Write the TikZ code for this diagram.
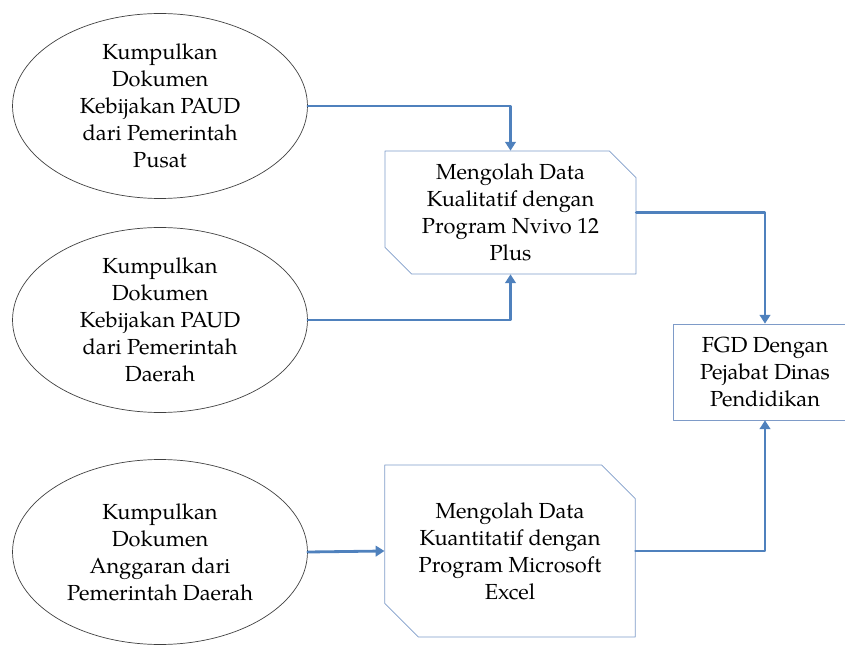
\documentclass[tikz,border=0pt]{standalone}
\usepackage{fontspec}
\setmainfont{texgyrepagella}[Extension=.otf, UprightFont=*-regular]
\usetikzlibrary{shapes.geometric,shapes.misc,arrows.meta}
\definecolor{flowblue}{RGB}{79,129,189}
\definecolor{edgeblue}{RGB}{126,155,200}
\begin{document}
\begin{tikzpicture}[x=0.02cm, y=-0.02cm, line cap=round, line join=round, >={Triangle[width=6pt,length=5pt]}, font=\fontsize{12.4}{15.4}\selectfont,
	oval/.style={ellipse, draw=black!75, thin, minimum width=5.9cm, minimum height=3.7cm, align=center, inner sep=0pt},
	snip/.style={chamfered rectangle, chamfered rectangle corners={north east,south west}, chamfered rectangle xsep=0.42cm, draw=edgeblue, thin, align=center},
	flow/.style={->, draw=flowblue, line width=1.6pt}]
		\useasboundingbox (0,0) rectangle (845,648);
		\clip (0,0) rectangle (845,648);
		% dokumen
		\node[oval] (pusat) at (160,106) {Kumpulkan\\Dokumen\\Kebijakan PAUD\\dari Pemerintah\\Pusat};
		\node[oval] (daerah) at (160,320) {Kumpulkan\\Dokumen\\Kebijakan PAUD\\dari Pemerintah\\Daerah};
		\node[oval] (anggaran) at (160,552) {Kumpulkan\\Dokumen\\Anggaran dari\\Pemerintah Daerah};
		% olah data
		\node[snip, minimum width=5.02cm, minimum height=2.46cm] (nvivo) at (510.5,212.5) {Mengolah Data\\Kualitatif dengan\\Program Nvivo 12\\Plus};
		\node[snip, minimum width=5cm, minimum height=3.44cm, chamfered rectangle xsep=0.56cm] (excel) at (510,551) {Mengolah Data\\Kuantitatif dengan\\Program Microsoft\\Excel};
		\node[draw=edgeblue, thin, minimum width=3.68cm, minimum height=1.92cm, align=center] (fgd) at (765,372) {FGD Dengan\\Pejabat Dinas\\Pendidikan};
		% alur
		\draw[flow] (pusat.east) -| (nvivo.north);
		\draw[flow] (daerah.east) -| (nvivo.south);
		\draw[flow] (nvivo.east) -| (fgd.north);
		\draw[flow] (anggaran.east) -- (excel.west);
		\draw[flow] (excel.east) -| (fgd.south);
\end{tikzpicture}
\end{document}
